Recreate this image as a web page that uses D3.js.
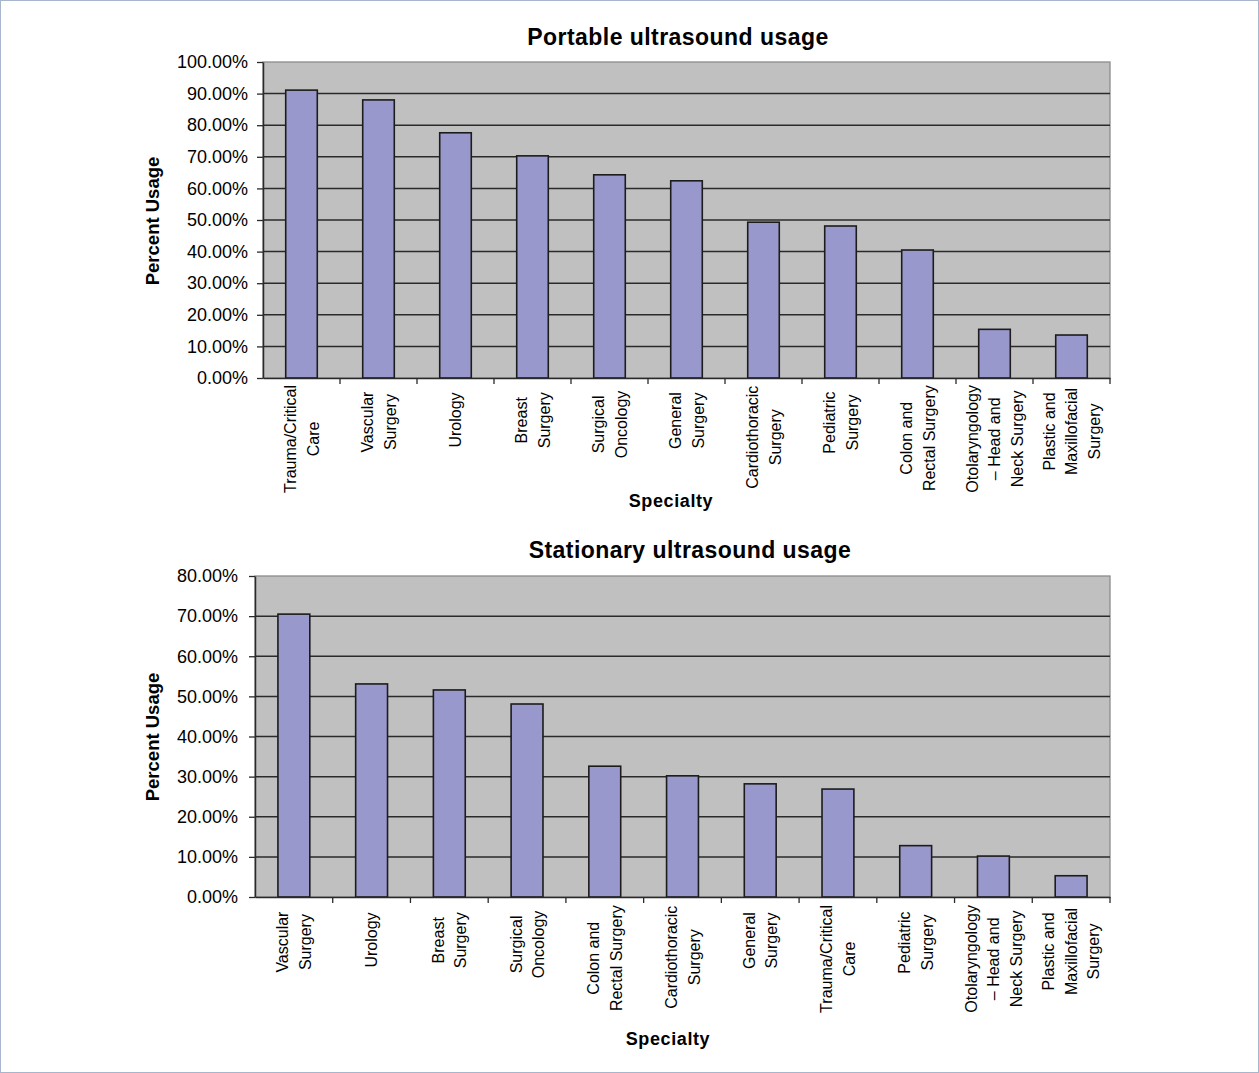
<!DOCTYPE html>
<html>
<head>
<meta charset="utf-8">
<script src="https://cdn.jsdelivr.net/npm/d3@7"></script>
<style>
  html, body { margin: 0; padding: 0; background: #ffffff; }
  svg { display: block; }
  text { font-family: "Liberation Sans", Arial, Helvetica, sans-serif; fill: #000; }
</style>
</head>
<body>
<svg id="fig" width="1259" height="1073"></svg>
<script>
// Portable ultrasound usage by specialty (percent of respondents)
const portableCategories = [
  "Trauma/Critical\nCare", "Vascular\nSurgery", "Urology", "Breast\nSurgery",
  "Surgical\nOncology", "General\nSurgery", "Cardiothoracic\nSurgery",
  "Pediatric\nSurgery", "Colon and\nRectal Surgery",
  "Otolaryngology\n\u2013 Head and\nNeck Surgery", "Plastic and\nMaxillofacial\nSurgery"
];
const portableValues = [91.1, 88.0, 77.6, 70.3, 64.3, 62.4, 49.3, 48.1, 40.5, 15.4, 13.6];
const portableTicks = [0, 10, 20, 30, 40, 50, 60, 70, 80, 90, 100];

// Stationary ultrasound usage by specialty (percent of respondents)
const stationaryCategories = [
  "Vascular\nSurgery", "Urology", "Breast\nSurgery", "Surgical\nOncology",
  "Colon and\nRectal Surgery", "Cardiothoracic\nSurgery", "General\nSurgery",
  "Trauma/Critical\nCare", "Pediatric\nSurgery",
  "Otolaryngology\n\u2013 Head and\nNeck Surgery", "Plastic and\nMaxillofacial\nSurgery"
];
const stationaryValues = [70.5, 53.1, 51.6, 48.1, 32.6, 30.2, 28.2, 26.9, 12.8, 10.2, 5.3];
const stationaryTicks = [0, 10, 20, 30, 40, 50, 60, 70, 80];

const svg = d3.select("#fig");

// thin frame around the figure
svg.append("rect")
  .attr("x", 0.5).attr("y", 0.5)
  .attr("width", 1258).attr("height", 1072)
  .attr("fill", "none").attr("stroke", "#a7b6cc").attr("stroke-width", 1);

function drawPanel(cfg) {
  const g = svg.append("g");
  const { left, right, top, bottom } = cfg.box;

  const y = d3.scaleLinear()
    .domain([0, d3.max(cfg.ticks)])
    .range([bottom, top]);

  // category cells (tick marks sit on their boundaries)
  const cell = d3.scaleBand()
    .domain(cfg.categories)
    .range([left, right])
    .padding(0);

  // bars occupy ~41% of each cell, centred
  const x = d3.scaleBand()
    .domain(cfg.categories)
    .range([left, right])
    .paddingInner(0.59)
    .paddingOuter(0.295);

  // plot area
  g.append("rect")
    .attr("x", left).attr("y", top)
    .attr("width", right - left).attr("height", bottom - top)
    .attr("fill", "#c0c0c0")
    .attr("stroke", "#8c8c8c").attr("stroke-width", 1.3);

  // horizontal gridlines
  g.append("g")
    .selectAll("line")
    .data(cfg.ticks.filter(t => t > 0 && t < d3.max(cfg.ticks)))
    .join("line")
    .attr("x1", left).attr("x2", right)
    .attr("y1", d => y(d)).attr("y2", d => y(d))
    .attr("stroke", "#2a2a2a").attr("stroke-width", 1.5);

  // bars
  g.append("g")
    .selectAll("rect")
    .data(cfg.categories.map((c, i) => ({ c, v: cfg.values[i] })))
    .join("rect")
    .attr("x", d => x(d.c))
    .attr("y", d => y(d.v))
    .attr("width", x.bandwidth())
    .attr("height", d => y(0) - y(d.v))
    .attr("fill", "#9998cc")
    .attr("stroke", "#1c1c1c").attr("stroke-width", 1.6);

  // y axis
  const yAxis = g.append("g")
    .attr("transform", `translate(${left},0)`)
    .call(d3.axisLeft(y)
      .tickValues(cfg.ticks)
      .tickFormat(d => d.toFixed(2) + "%")
      .tickSize(6)
      .tickSizeOuter(0)
      .tickPadding(cfg.tickPad));
  yAxis.select(".domain").attr("stroke", "#2a2a2a").attr("stroke-width", 1.5);
  yAxis.selectAll(".tick line").attr("stroke", "#2a2a2a").attr("stroke-width", 1.3);
  yAxis.selectAll(".tick text")
    .style("font-family", '"Liberation Sans", Arial, sans-serif')
    .style("font-size", "18px")
    .attr("fill", "#111");

  // x axis baseline with ticks at category boundaries
  const xAxis = g.append("g")
    .attr("transform", `translate(0,${bottom})`)
    .call(d3.axisBottom(cell).tickSize(0).tickFormat(""));
  xAxis.select(".domain").attr("stroke", "#2a2a2a").attr("stroke-width", 1.5);
  xAxis.append("g")
    .selectAll("line")
    .data(cfg.categories)
    .join("line")
    .attr("x1", d => cell(d) + cell.bandwidth())
    .attr("x2", d => cell(d) + cell.bandwidth())
    .attr("y1", 0).attr("y2", 6)
    .attr("stroke", "#2a2a2a").attr("stroke-width", 1.3);

  // rotated, multi-line category labels; lines centred on each other,
  // shorter blocks sit slightly lower than the longest one
  const pitch = 22.5;
  const labels = g.append("g")
    .selectAll("g")
    .data(cfg.categories)
    .join("g");

  const blockLen = new Map();
  labels.each(function (d) {
    const lines = d.split("\n");
    const texts = d3.select(this).selectAll("text")
      .data(lines)
      .join("text")
      .attr("y", (l, i) => (i - (lines.length - 1) / 2) * pitch)
      .attr("dy", "0.36em")
      .attr("text-anchor", "middle")
      .style("font-size", "16px")
      .text(l => l);
    let maxLen = 0;
    texts.each(function () { maxLen = Math.max(maxLen, this.getComputedTextLength()); });
    texts.attr("x", -maxLen / 2);
    blockLen.set(d, maxLen);
  });
  const longest = d3.max([...blockLen.values()]);
  labels.attr("transform", d => {
    const offset = cfg.labelGap + 0.14 * (longest - blockLen.get(d));
    return `translate(${cell(d) + cell.bandwidth() / 2},${bottom + offset}) rotate(-90)`;
  });

  // chart title
  g.append("text")
    .attr("x", cfg.titleX).attr("y", cfg.titleY)
    .attr("text-anchor", "middle")
    .style("font-size", "23px").style("font-weight", "bold")
    .style("letter-spacing", "0.45px")
    .text(cfg.title);

  // y axis title
  g.append("text")
    .attr("transform", `translate(${cfg.yTitleX},${cfg.yTitleY}) rotate(-90)`)
    .attr("text-anchor", "middle")
    .attr("dy", "0.36em")
    .style("font-size", "18.5px").style("font-weight", "bold")
    .text("Percent Usage");

  // x axis title
  g.append("text")
    .attr("x", cfg.xTitleX).attr("y", cfg.xTitleY)
    .attr("text-anchor", "middle")
    .style("font-size", "18px").style("font-weight", "bold")
    .style("letter-spacing", "0.6px")
    .text("Specialty");
}

drawPanel({
  title: "Portable ultrasound usage",
  categories: portableCategories,
  values: portableValues,
  ticks: portableTicks,
  box: { left: 263, right: 1110, top: 62, bottom: 378 },
  tickPad: 9,
  labelGap: 7,
  titleX: 678, titleY: 45,
  yTitleX: 152, yTitleY: 221,
  xTitleX: 671, xTitleY: 507
});

drawPanel({
  title: "Stationary ultrasound usage",
  categories: stationaryCategories,
  values: stationaryValues,
  ticks: stationaryTicks,
  box: { left: 255, right: 1110, top: 576, bottom: 897 },
  tickPad: 11,
  labelGap: 8,
  titleX: 690, titleY: 558,
  yTitleX: 152, yTitleY: 737,
  xTitleX: 668, xTitleY: 1045
});
</script>
</body>
</html>
